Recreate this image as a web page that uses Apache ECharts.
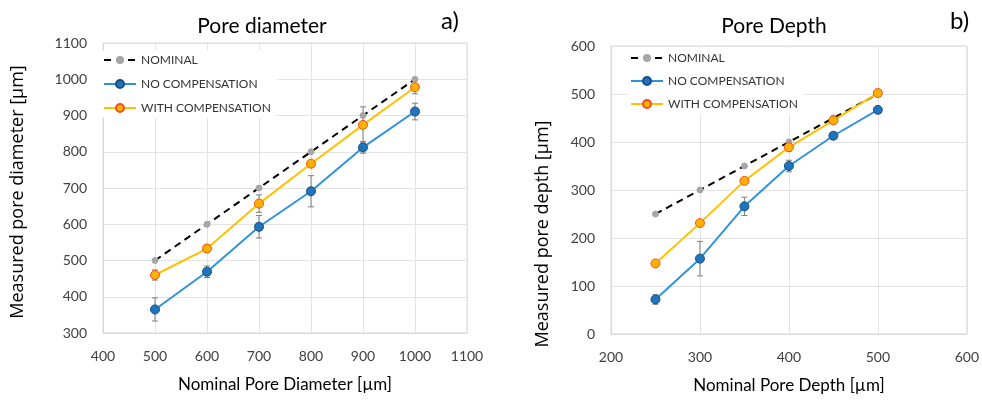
<!DOCTYPE html>
<html>
<head>
<meta charset="utf-8">
<script src="https://cdn.jsdelivr.net/npm/echarts@6/dist/echarts.min.js"></script>
<style>
  html, body { margin: 0; padding: 0; background: #fff; }
  #chart { width: 982px; height: 400px; }
</style>
</head>
<body>
<div id="chart"></div>
<script>
// a) pore diameter
const diamX = [500, 600, 700, 800, 900, 1000]
const diamNominal = [500, 600, 700, 800, 900, 1000]
const diamNoComp = [365, 469, 593, 691, 812, 911]
const diamNoCompErr = [32, 16, 31, 43, 16, 23]
const diamWithComp = [460, 533, 657, 767, 874, 978]
const diamWithCompErr = [14, 10, 24, 6, 50, 18]

// b) pore depth
const depthX = [250, 300, 350, 400, 450, 500]
const depthNominal = [250, 300, 350, 400, 450, 500]
const depthNoComp = [72, 157, 266, 350, 413, 467]
const depthNoCompErr = [10, 36, 19, 12, 7, 0]
const depthWithComp = [147, 231, 319, 389, 445, 502]
const depthWithCompErr = [0, 0, 0, 8, 7, 0]

const legendNames = ['NOMINAL', 'NO COMPENSATION', 'WITH COMPENSATION']
const font = 'Lato, "Open Sans", sans-serif'
const yTitleFont = '"Open Sans", sans-serif'

const chart = echarts.init(document.getElementById('chart'))

const pairs = (xs, ys) => xs.map((x, i) => [x, ys[i]])
const errPairs = (xs, ys, es) => xs.map((x, i) => [x, ys[i], es[i]])

const renderErr = (params, api) => {
  const x = api.value(0)
  const y = api.value(1)
  const e = api.value(2)
  if (!e) return
  const top = api.coord([x, y + e])
  const bot = api.coord([x, y - e])
  const style = { stroke: '#7f7f7f', lineWidth: 1 }
  return {
    type: 'group',
    children: [
      { type: 'line', shape: { x1: top[0], y1: top[1], x2: bot[0], y2: bot[1] }, style },
      { type: 'line', shape: { x1: top[0] - 3, y1: top[1], x2: top[0] + 3, y2: top[1] }, style },
      { type: 'line', shape: { x1: bot[0] - 3, y1: bot[1], x2: bot[0] + 3, y2: bot[1] }, style }
    ]
  }
}

const makeSeries = (idx, xs, nom, noc, nocErr, wc, wcErr) => [
  {
    type: 'custom', name: 'err1', xAxisIndex: idx, yAxisIndex: idx, z: 1,
    renderItem: renderErr, data: errPairs(xs, noc, nocErr), silent: true
  },
  {
    type: 'custom', name: 'err2', xAxisIndex: idx, yAxisIndex: idx, z: 1,
    renderItem: renderErr, data: errPairs(xs, wc, wcErr), silent: true
  },
  {
    name: 'NOMINAL', type: 'line', xAxisIndex: idx, yAxisIndex: idx, z: 3,
    data: pairs(xs, nom),
    symbol: 'circle', symbolSize: 6,
    lineStyle: { color: '#000', width: 2, type: [7, 5] },
    itemStyle: { color: '#a6a6a6', borderColor: '#a6a6a6' }
  },
  {
    name: 'NO COMPENSATION', type: 'line', xAxisIndex: idx, yAxisIndex: idx, z: 3,
    data: pairs(xs, noc),
    symbol: 'circle', symbolSize: 9,
    lineStyle: { color: '#2f93dc', width: 2 },
    itemStyle: { color: '#1f74bd', borderColor: '#184f7e', borderWidth: 1 }
  },
  {
    name: 'WITH COMPENSATION', type: 'line', xAxisIndex: idx, yAxisIndex: idx, z: 3,
    data: pairs(xs, wc),
    symbol: 'circle', symbolSize: 9,
    lineStyle: { color: '#ffc000', width: 2 },
    itemStyle: { color: '#ffb000', borderColor: '#f0501e', borderWidth: 1 }
  }
]

const axisCommon = {
  type: 'value',
  axisLine: { show: true, lineStyle: { color: '#d9d9d9' } },
  axisTick: { show: false },
  splitLine: { show: true, lineStyle: { color: '#e3e3e3' } },
  axisLabel: { color: '#404040', fontSize: 14, fontFamily: font, margin: 16, formatter: v => String(v) },
  nameLocation: 'middle',
  nameTextStyle: { color: '#000', fontSize: 17, fontFamily: font }
}

const legendCommon = {
  orient: 'vertical',
  data: legendNames,
  backgroundColor: '#fff',
  itemWidth: 32,
  itemHeight: 10,
  itemGap: 12,
  textStyle: { color: '#333', fontSize: 12, fontFamily: font },
  padding: [4, 6, 4, 2],
  selectedMode: false
}

const option = {
  animation: false,
  title: [
    { text: 'Pore diameter', left: 257, top: 11, textAlign: 'center',
      textStyle: { fontSize: 21, fontWeight: 'normal', color: '#000', fontFamily: font } },
    { text: 'a)', left: 436, top: 4,
      textStyle: { fontSize: 24, fontWeight: 'normal', color: '#000', fontFamily: font } },
    { text: 'Pore Depth', left: 769, top: 11, textAlign: 'center',
      textStyle: { fontSize: 21, fontWeight: 'normal', color: '#000', fontFamily: font } },
    { text: 'b)', left: 945, top: 4,
      textStyle: { fontSize: 24, fontWeight: 'normal', color: '#000', fontFamily: font } }
  ],
  graphic: [
    { type: 'text', x: 18, y: 192, rotation: Math.PI / 2,
      style: { text: 'Measured pore diameter [µm]', fill: '#000', fontSize: 18, fontFamily: yTitleFont,
        align: 'center', verticalAlign: 'middle' } },
    { type: 'text', x: 543, y: 234, rotation: Math.PI / 2,
      style: { text: 'Measured pore depth [µm]', fill: '#000', fontSize: 18, fontFamily: yTitleFont,
        align: 'center', verticalAlign: 'middle' } }
  ],
  legend: [
    Object.assign({ left: 101, top: 50 }, legendCommon),
    Object.assign({ left: 628, top: 48, itemGap: 11 }, legendCommon, { itemGap: 11 })
  ],
  grid: [
    { left: 103, right: 515, top: 43, bottom: 67, show: true, borderColor: '#d9d9d9', backgroundColor: 'transparent' },
    { left: 611, right: 15, top: 46, bottom: 66, show: true, borderColor: '#d9d9d9', backgroundColor: 'transparent' }
  ],
  xAxis: [
    Object.assign({}, axisCommon, { gridIndex: 0, min: 400, max: 1100, interval: 100,
      name: 'Nominal Pore Diameter [µm]', nameGap: 43 }),
    Object.assign({}, axisCommon, { gridIndex: 1, min: 200, max: 600, interval: 100,
      name: 'Nominal Pore Depth [µm]', nameGap: 43 })
  ],
  yAxis: [
    Object.assign({}, axisCommon, { gridIndex: 0, min: 300, max: 1100, interval: 100 }),
    Object.assign({}, axisCommon, { gridIndex: 1, min: 0, max: 600, interval: 100 })
  ],
  series: [
    ...makeSeries(0, diamX, diamNominal, diamNoComp, diamNoCompErr, diamWithComp, diamWithCompErr),
    ...makeSeries(1, depthX, depthNominal, depthNoComp, depthNoCompErr, depthWithComp, depthWithCompErr)
  ]
}

chart.setOption(option)
window.addEventListener('resize', () => chart.resize())
</script>
</body>
</html>
